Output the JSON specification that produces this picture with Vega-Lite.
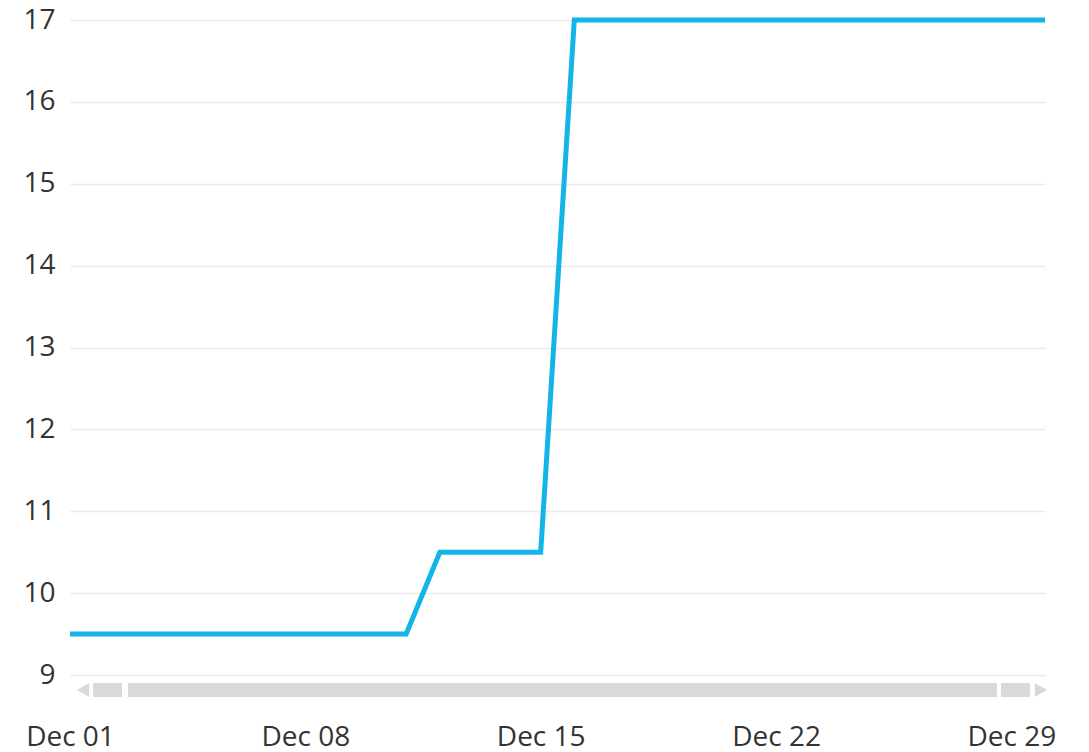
{
  "$schema": "https://vega.github.io/schema/vega-lite/v6.json",
  "width": 975,
  "height": 655,
  "autosize": {"type": "none"},
  "padding": {"left": 70, "top": 20, "right": 44, "bottom": 77},
  "background": "white",
  "config": {"view": {"stroke": null}, "font": "Open Sans"},
  "datasets": {
    "series": [
      {"date": "2023-12-01", "value": 9.5},
      {"date": "2023-12-02", "value": 9.5},
      {"date": "2023-12-03", "value": 9.5},
      {"date": "2023-12-04", "value": 9.5},
      {"date": "2023-12-05", "value": 9.5},
      {"date": "2023-12-06", "value": 9.5},
      {"date": "2023-12-07", "value": 9.5},
      {"date": "2023-12-08", "value": 9.5},
      {"date": "2023-12-09", "value": 9.5},
      {"date": "2023-12-10", "value": 9.5},
      {"date": "2023-12-11", "value": 9.5},
      {"date": "2023-12-12", "value": 10.5},
      {"date": "2023-12-13", "value": 10.5},
      {"date": "2023-12-14", "value": 10.5},
      {"date": "2023-12-15", "value": 10.5},
      {"date": "2023-12-16", "value": 17},
      {"date": "2023-12-17", "value": 17},
      {"date": "2023-12-18", "value": 17},
      {"date": "2023-12-19", "value": 17},
      {"date": "2023-12-20", "value": 17},
      {"date": "2023-12-21", "value": 17},
      {"date": "2023-12-22", "value": 17},
      {"date": "2023-12-23", "value": 17},
      {"date": "2023-12-24", "value": 17},
      {"date": "2023-12-25", "value": 17},
      {"date": "2023-12-26", "value": 17},
      {"date": "2023-12-27", "value": 17},
      {"date": "2023-12-28", "value": 17},
      {"date": "2023-12-29", "value": 17},
      {"date": "2023-12-30", "value": 17}
    ],
    "scrollbar": [
      {"start": "2023-12-01T16:25:00Z", "end": "2023-12-02T13:08:00Z", "lo": 8.731, "hi": 8.902},
      {"start": "2023-12-02T17:24:00Z", "end": "2023-12-28T13:41:00Z", "lo": 8.731, "hi": 8.902},
      {"start": "2023-12-28T16:34:00Z", "end": "2023-12-29T13:12:00Z", "lo": 8.731, "hi": 8.902}
    ],
    "arrows": [
      {"pos": "2023-12-01T09:22:00Z", "mid": 8.817, "dir": "triangle-left"},
      {"pos": "2023-12-29T21:07:00Z", "mid": 8.817, "dir": "triangle-right"}
    ]
  },
  "layer": [
    {
      "data": {"name": "scrollbar"},
      "mark": {"type": "rect", "color": "#d9d9d9", "clip": false},
      "encoding": {
        "x": {"field": "start", "type": "temporal", "scale": {"type": "utc"}},
        "x2": {"field": "end"},
        "y": {"field": "lo", "type": "quantitative"},
        "y2": {"field": "hi"}
      }
    },
    {
      "data": {"name": "arrows"},
      "mark": {"type": "point", "filled": true, "color": "#d9d9d9", "size": 200, "opacity": 1, "clip": false},
      "encoding": {
        "x": {"field": "pos", "type": "temporal"},
        "y": {"field": "mid", "type": "quantitative"},
        "shape": {"field": "dir", "type": "nominal", "scale": {"domain": ["triangle-left", "triangle-right"], "range": ["triangle-left", "triangle-right"]}, "legend": null}
      }
    },
    {
      "data": {"name": "series"},
      "mark": {"type": "line", "color": "#13b5e8", "strokeWidth": 5, "strokeJoin": "miter", "clip": false},
      "encoding": {
        "x": {
          "field": "date",
          "type": "temporal",
          "scale": {"type": "utc", "domain": [{"year": 2023, "month": 12, "date": 1, "utc": true}, {"year": 2023, "month": 12, "date": 30, "utc": true}]},
          "axis": {
            "title": null,
            "format": "%b %d",
            "values": [
              {"year": 2023, "month": 12, "date": 1, "utc": true},
              {"year": 2023, "month": 12, "date": 8, "utc": true},
              {"year": 2023, "month": 12, "date": 15, "utc": true},
              {"year": 2023, "month": 12, "date": 22, "utc": true},
              {"year": 2023, "month": 12, "date": 29, "utc": true}
            ],
            "grid": false,
            "domain": false,
            "ticks": false,
            "labelBaseline": "alphabetic",
            "labelPadding": 70,
            "labelFontSize": 28,
            "labelColor": "#333333",
            "labelFlush": false,
            "labelOverlap": false
          }
        },
        "y": {
          "field": "value",
          "type": "quantitative",
          "scale": {"domain": [9, 17], "nice": false, "zero": false},
          "axis": {
            "title": null,
            "format": "d",
            "values": [9, 10, 11, 12, 13, 14, 15, 16, 17],
            "grid": true,
            "gridColor": "#ebebeb",
            "gridWidth": 1.5,
            "domain": false,
            "ticks": false,
            "labelPadding": 15,
            "labelFontSize": 28,
            "labelColor": "#333333"
          }
        }
      }
    }
  ]
}
